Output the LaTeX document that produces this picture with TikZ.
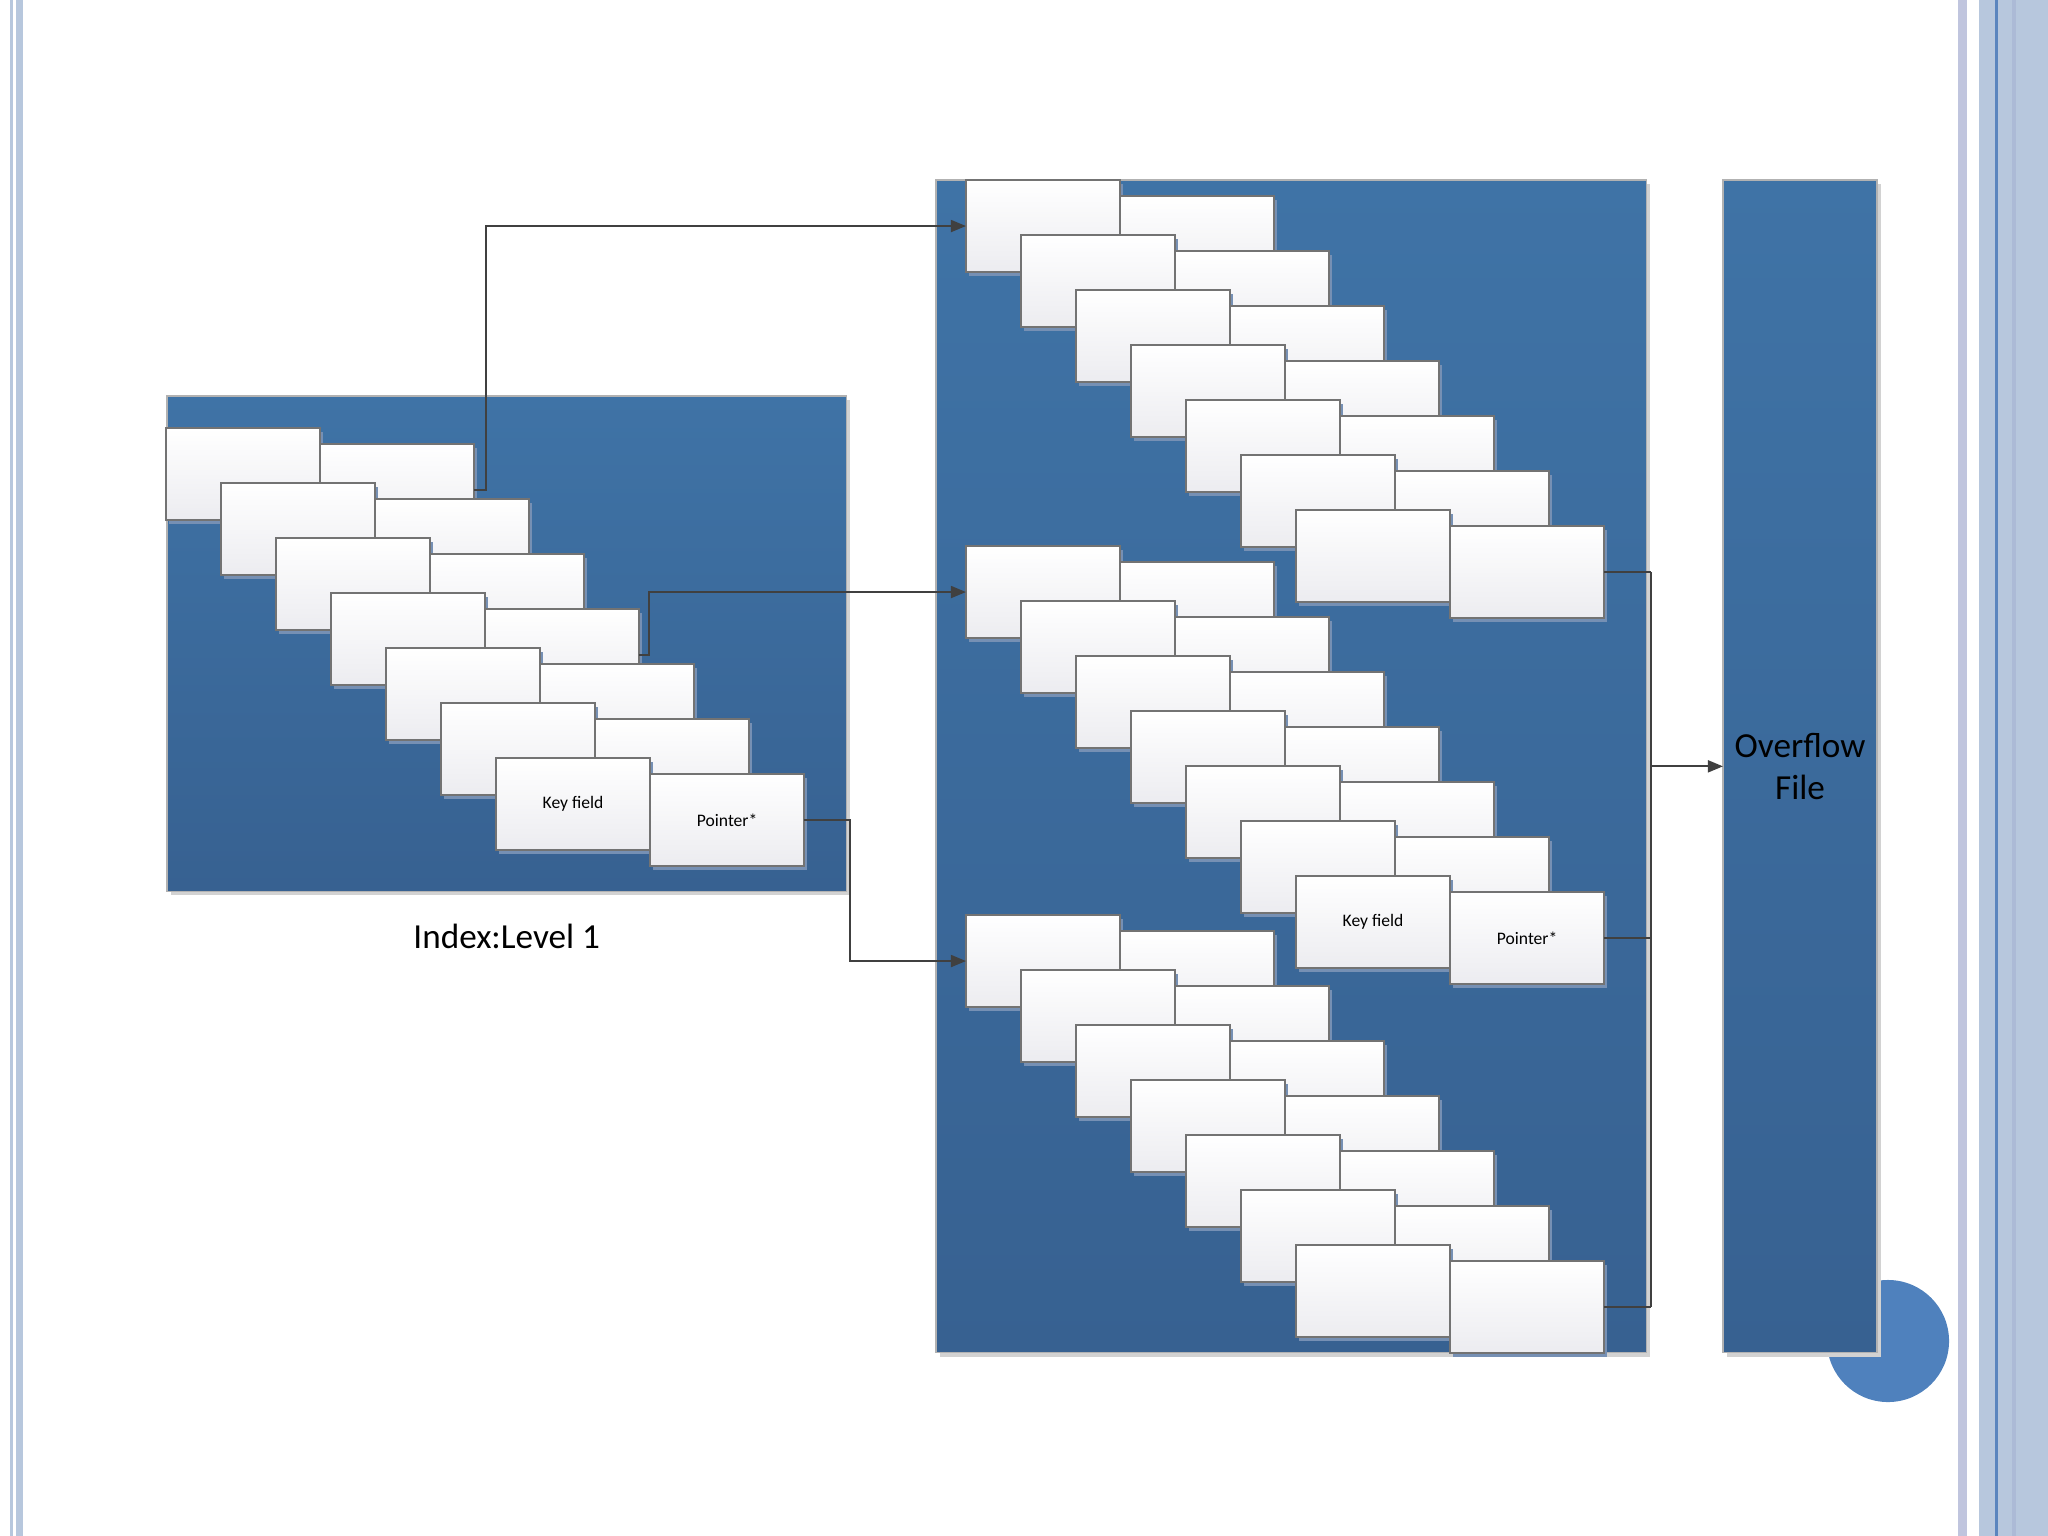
\documentclass[tikz,border=0pt]{standalone}
\usepackage{fontspec}
\setmainfont{Carlito}
\usepackage{tikz}
\usetikzlibrary{arrows.meta, positioning, shadows}
\definecolor{slideblue}{RGB}{63,115,166}
\definecolor{slidebluedark}{RGB}{55,97,145}
\definecolor{fieldgray}{RGB}{236,236,240}
\definecolor{shadowblue}{RGB}{118,144,180}
\definecolor{linkgray}{RGB}{64,64,64}
\definecolor{stripeblue}{RGB}{183,199,221}
\definecolor{stripelav}{RGB}{192,197,222}
\definecolor{stripemid}{RGB}{172,186,214}
\definecolor{stripedark}{RGB}{91,133,190}
\definecolor{dotblue}{RGB}{79,129,189}

\begin{document}
\begin{tikzpicture}[
        x=0.01cm, y=-0.01cm,
        block/.style={rectangle, draw=gray!60, line width=0.4pt, top color=slideblue, bottom color=slidebluedark, inner sep=0pt, outer sep=0pt, anchor=north west, drop shadow={shadow xshift=0.04cm, shadow yshift=-0.04cm, fill=gray!35, opacity=1}},
        keybox/.style={rectangle, draw=black!55, line width=0.5pt, top color=white, bottom color=fieldgray, minimum width=1.54cm, minimum height=0.92cm, inner sep=0pt, outer sep=0pt, font=\fontsize{5}{6}\selectfont, drop shadow={shadow xshift=0.03cm, shadow yshift=-0.04cm, fill=shadowblue, opacity=1}},
        arrow/.style={-{Triangle[length=4.3pt, width=3.4pt]}, line width=0.6pt, draw=linkgray},
        link/.style={line width=0.6pt, draw=linkgray}
    ]
        \useasboundingbox (0,0) rectangle (2048,1536);
        % Slide border
        \fill[stripeblue] (10,0) rectangle (13,1536);
        \fill[stripeblue] (16,0) rectangle (23,1536);
        \fill[stripelav] (1958,0) rectangle (1967,1536);
        \fill[stripeblue] (1979,0) rectangle (2048,1536);
        \fill[stripedark] (1995,0) rectangle (1998,1536);
        \fill[stripemid] (2012,0) rectangle (2016,1536);
        \node[circle, fill=dotblue, minimum size=1.22cm, inner sep=0pt] (dot) at (1888,1341) {};
        
        % Nodes
        \node[block, minimum width=6.79cm, minimum height=4.95cm] (index) at (167,396) {};
        \node[below=0.2cm of index, font=\fontsize{10}{12}\selectfont] (indexlabel) {Index:Level 1};
        \node[block, minimum width=7.10cm, minimum height=11.72cm] (bucket) at (936,180) {};
        \node[block, minimum width=1.54cm, minimum height=11.72cm, align=center, font=\fontsize{10}{12}\selectfont] (overflow) at (1723,180) {Overflow\\File};
        
        \foreach \g/\x/\y/\kt/\pt in {0/166/428/Key field/Pointer*, 1/966/180/{}/{}, 2/966/546/Key field/Pointer*, 3/966/915/{}/{}}
            \foreach \i in {1,...,7} {
                \node[keybox, anchor=north west] (key\g-\i) at ({\x+55*(\i-1)},{\y+55*(\i-1)}) {\ifnum\i=7 \kt\fi};
                \node[keybox, right=0cm of key\g-\i, yshift=-0.16cm] (ptr\g-\i) {\ifnum\i=7 \pt\fi};
            }
        
        % Arrows
        \draw[arrow] (ptr0-1.east) -- ++(12,0) |- (key1-1.west);
        \draw[arrow] (ptr0-4.east) -- ++(10,0) |- (key2-1.west);
        \draw[arrow] (ptr0-7.east) -- ++(46,0) |- (key3-1.west);
        
        \draw[link] (ptr1-7.east) -- ++(47,0) coordinate (bus1);
        \draw[link] (ptr2-7.east) -- ++(47,0);
        \draw[link] (ptr3-7.east) -- ++(47,0) coordinate (bus3);
        \draw[link] (bus1) -- (bus3);
        \draw[arrow] (bus1 |- overflow.west) -- (overflow.west);
    \end{tikzpicture}
\end{document}
